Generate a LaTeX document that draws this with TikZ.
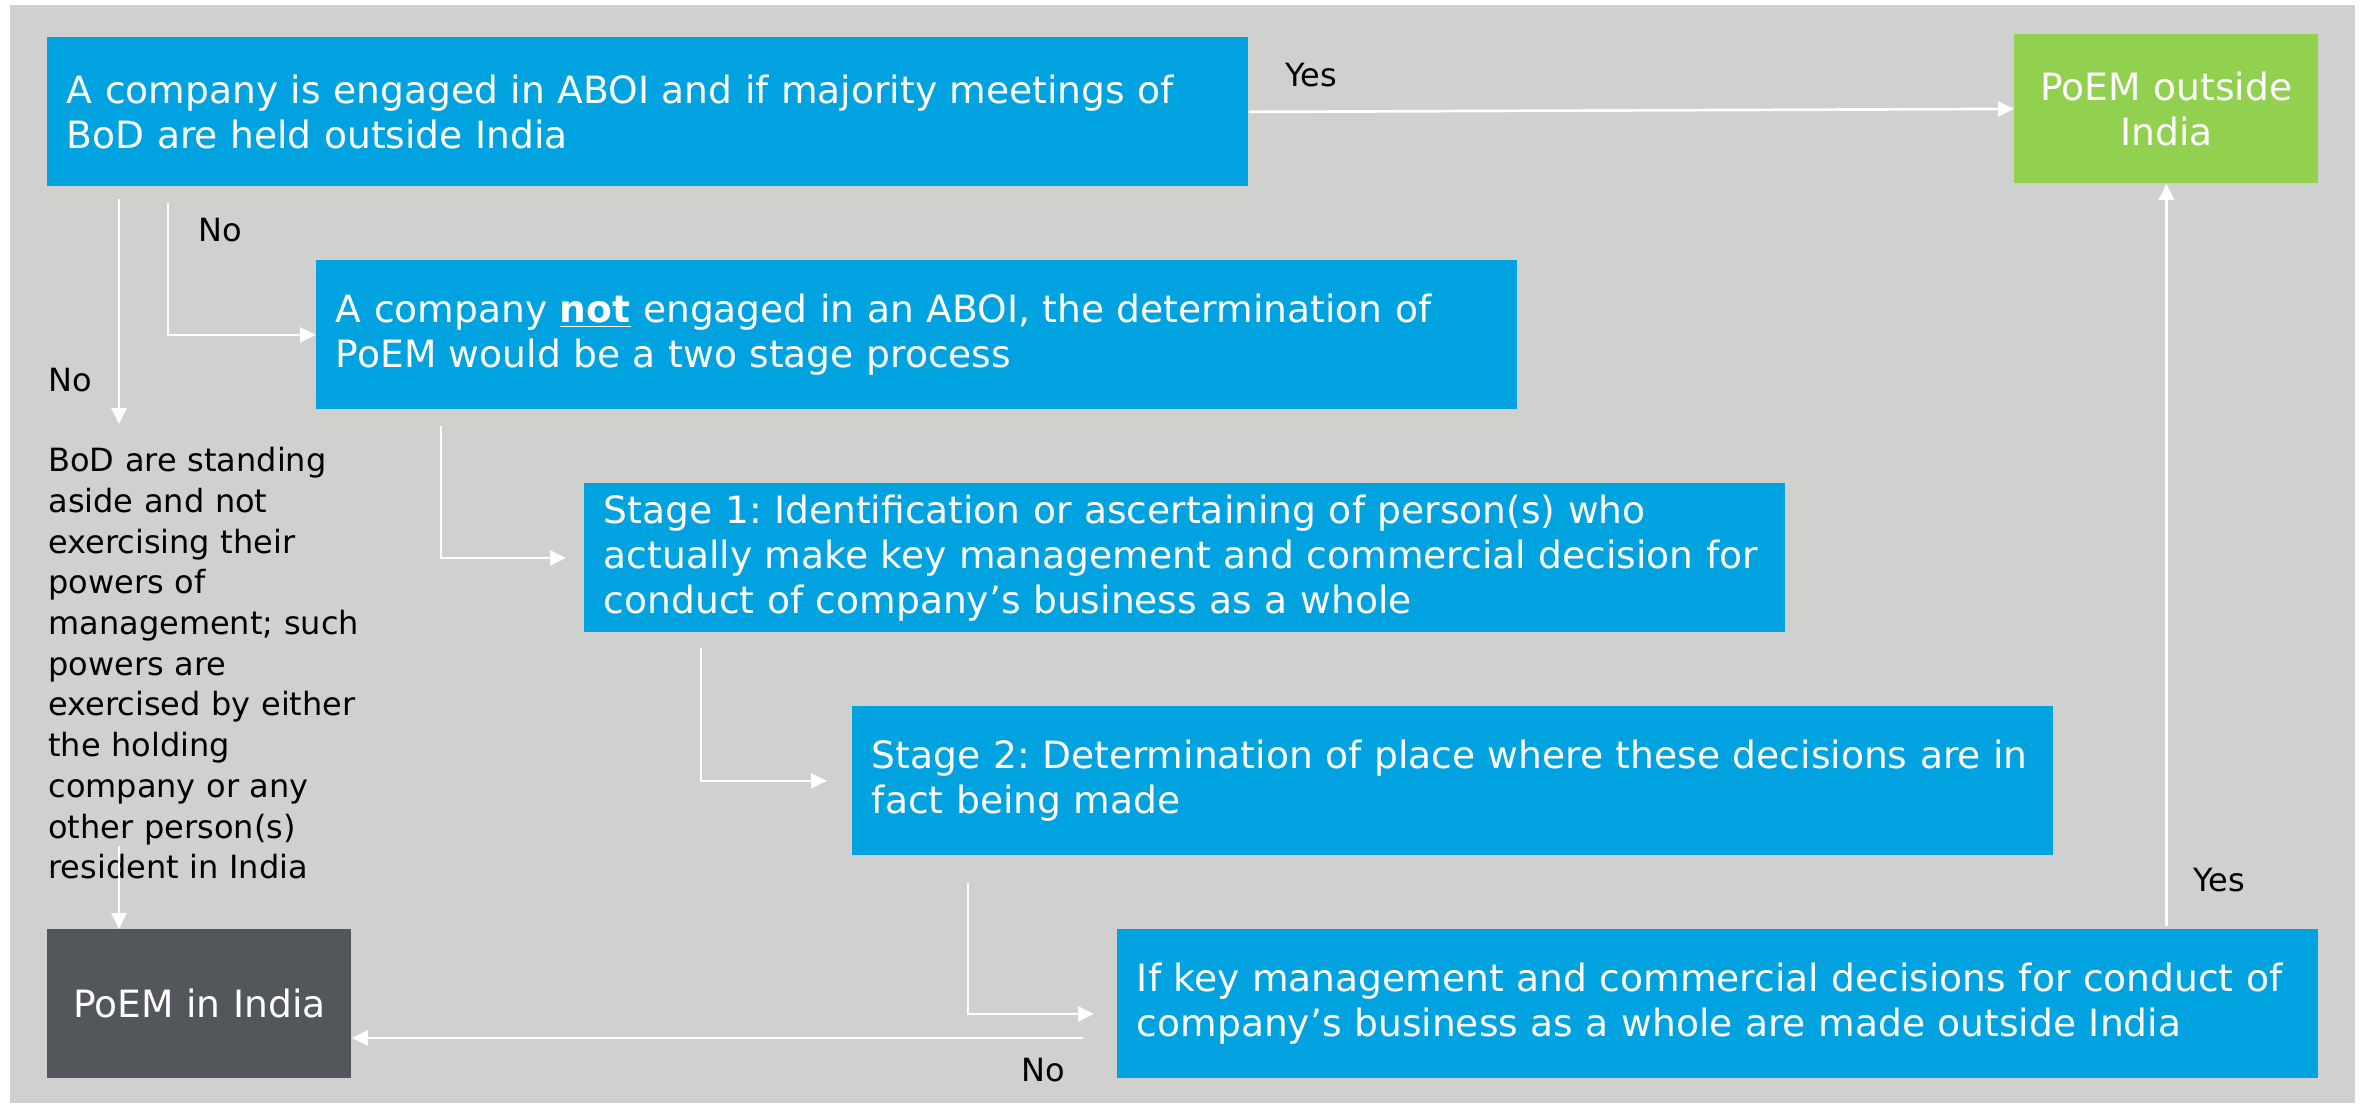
\documentclass[tikz,border=0pt]{standalone}
\usepackage{fontspec}
\setmainfont{DejaVu Sans}
\usetikzlibrary{arrows.meta,calc}
\definecolor{cblue}{HTML}{00A3E0}
\definecolor{cgreen}{HTML}{92D050}
\definecolor{cdark}{HTML}{53565A}
\definecolor{cbg}{HTML}{D0D0CE}
\frenchspacing
\begin{document}
\begin{tikzpicture}[x=0.5pt,y=-0.5pt,
 flowbox/.style={fill=cblue,text=white,anchor=north west,minimum height=74.5pt,text width=581pt,inner xsep=9.75pt,inner ysep=0pt,align=left,font=\fontsize{18.8}{22.5}\selectfont},
 endbox/.style={fill=#1,text=white,anchor=north west,minimum height=74.5pt,text width=133pt,inner xsep=9.5pt,inner ysep=0pt,align=center,font=\fontsize{18.8}{22.5}\selectfont},
 lbl/.style={font=\fontsize{16}{20.35}\selectfont,text=black,inner sep=0pt},
 arr/.style={draw=white,line width=1.35pt,-{Triangle[length=8pt,width=7.5pt]}}
]
\useasboundingbox (0,0) rectangle (2364,1103);
\fill[white] (0,0) rectangle (2364,1103);
\fill[cbg] (10,5) rectangle (2355,1103);

\node[flowbox] (b1) at (47,37) {A company is engaged in ABOI and if majority meetings of\\BoD are held outside India};
\node[flowbox] (b2) at (316,260) {A company \textbf{\underline{not}} engaged in an ABOI, the determination of\\PoEM would be a two stage process};
\node[flowbox] (b3) at (584,483) {Stage 1: Identification or ascertaining of person(s) who\\actually make key management and commercial decision for\\conduct of company’s business as a whole};
\node[flowbox] (b4) at (852,706) {Stage 2: Determination of place where these decisions are in\\fact being made};
\node[flowbox] (b5) at (1117,929) {If key management and commercial decisions for conduct of\\company’s business as a whole are made outside India};
\node[endbox=cgreen] (out) at (2014,34) {PoEM outside\\India};
\node[endbox=cdark] (in) at (47,929) {PoEM in India};
\node[lbl,anchor=north west,inner xsep=0pt,inner ysep=11.5pt,align=left,text width=190pt] (bod) at (48,424) {BoD are standing\\aside and not\\exercising their\\powers of\\management; such\\powers are\\exercised by either\\the holding\\company or any\\other person(s)\\resident in India};

\node[lbl] (yes1) at (1311,75) {Yes};
\node[lbl] (no1) at (220,230) {No};
\node[lbl] (no2) at (70,380) {No};
\node[lbl] (no3) at (1043,1070) {No};
\node[lbl] (yes2) at (2219,880) {Yes};

\draw[arr] (b1.east) -- (out.west);
\coordinate (s1) at ($(b1.south west)+(121,16)$);
\draw[arr] (s1) |- (b2.west);
\coordinate (s0) at ($(b1.south west)+(72,12)$);
\draw[arr] (s0) -- (s0 |- bod.north);
\coordinate (s2) at (119,846);
\draw[arr] (s2) -- (s2 |- in.north);
\coordinate (s3) at ($(b2.south west)+(125,16)$);
\coordinate (e3) at ($(b3.west)+(-18,0)$);
\draw[arr] (s3) |- (e3);
\coordinate (s4) at ($(b3.south west)+(117,15)$);
\coordinate (e4) at ($(b4.west)+(-25,0)$);
\draw[arr] (s4) |- (e4);
\coordinate (s5) at ($(b4.south west)+(116,27)$);
\coordinate (e5) at ($(b5.west)+(-23,10)$);
\draw[arr] (s5) |- (e5);
\coordinate (s6) at ($(b5.west)+(-34,34)$);
\draw[arr] (s6) -- (s6 -| in.east);
\coordinate (s7) at ($(out.south |- b5.north)+(0,-3)$);
\draw[arr] (s7) -- (out.south);
\end{tikzpicture}
\end{document}
